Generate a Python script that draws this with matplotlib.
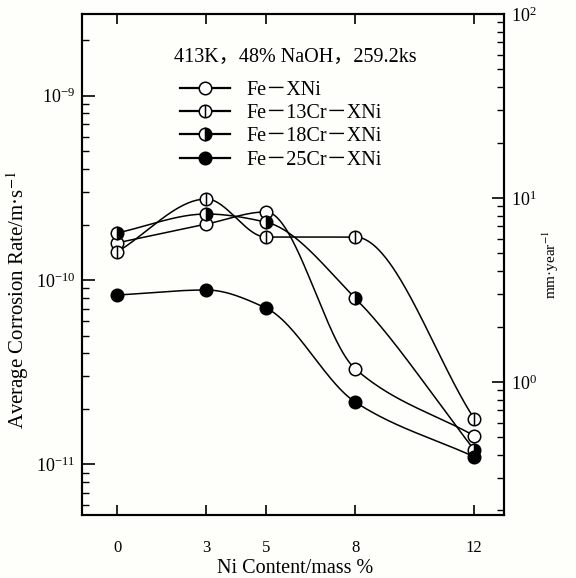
import numpy as np
import matplotlib
matplotlib.use("Agg")
import matplotlib.pyplot as plt
from matplotlib.path import Path
from matplotlib.lines import Line2D
from matplotlib.ticker import LogLocator, NullFormatter, FixedLocator

# Ni content (mass %) and average corrosion rate (m/s)
ni = [0, 3, 5, 8, 12]
fe_xni = [1.59e-10, 2.01e-10, 2.34e-10, 3.30e-11, 1.43e-11]
fe13cr = [1.42e-10, 2.75e-10, 1.71e-10, 1.71e-10, 1.77e-11]
fe18cr = [1.80e-10, 2.28e-10, 2.06e-10, 7.98e-11, 1.20e-11]
fe25cr = [8.29e-11, 8.83e-11, 7.05e-11, 2.18e-11, 1.10e-11]
labels = ["Fe－XNi", "Fe－13Cr－XNi", "Fe－18Cr－XNi", "Fe－25Cr－XNi"]

plt.rcParams['font.family'] = ['Liberation Serif', 'Noto Sans CJK JP']
plt.rcParams['mathtext.fontset'] = 'stix'


def pchip(x, y, xs):
    # monotone cubic through the points (smooth hand-drawn look)
    x = np.asarray(x, float)
    y = np.asarray(y, float)
    h = np.diff(x)
    d = np.diff(y) / h
    n = len(x)
    m = np.zeros(n)
    for k in range(1, n - 1):
        if d[k - 1] * d[k] > 0:
            w1 = 2 * h[k] + h[k - 1]
            w2 = h[k] + 2 * h[k - 1]
            m[k] = (w1 + w2) / (w1 / d[k - 1] + w2 / d[k])
    m[0] = d[0]
    m[-1] = d[-1]
    out = np.empty_like(xs)
    for i, xv in enumerate(xs):
        k = min(np.searchsorted(x, xv, side='right') - 1, n - 2)
        k = max(k, 0)
        t = (xv - x[k]) / h[k]
        h00 = 2 * t**3 - 3 * t**2 + 1
        h10 = t**3 - 2 * t**2 + t
        h01 = -2 * t**3 + 3 * t**2
        h11 = t**3 - t**2
        out[i] = h00 * y[k] + h10 * h[k] * m[k] + h01 * y[k + 1] + h11 * h[k] * m[k + 1]
    return out


# circle with a vertical bar for Fe-13Cr
bar_circle = Path.make_compound_path(
    Path.unit_circle(),
    Path([[0, -1], [0, 1]], [Path.MOVETO, Path.LINETO]))

fig = plt.figure(figsize=(5.76, 5.78), dpi=100)
fig.patch.set_facecolor('#fefefa')
ax = fig.add_axes([0.1424, 0.109, 0.7326, 0.8668])
ax.set_facecolor('#fefefa')

xs = np.linspace(0, 12, 400)
ms = 9
styles = [
    dict(marker='o', mfc='white', mec='black'),
    dict(marker=bar_circle, mfc='white', mec='black'),
    dict(marker='o', mfc='black', mfcalt='white', fillstyle='right', mec='black'),
    dict(marker='o', mfc='black', mec='black'),
]
handles = []
for vals, st, lab in zip([fe_xni, fe13cr, fe18cr, fe25cr], styles, labels):
    ys = 10 ** pchip(ni, np.log10(vals), xs)
    ax.plot(xs, ys, color='black', lw=1.1, zorder=2)
    ax.plot(ni, vals, ls='none', ms=ms, mew=1.1, zorder=3, **st)
    handles.append(Line2D([], [], color='black', lw=1.6, ms=ms, mew=1.1, **st))

ax.set_yscale('log')
ax.set_xlim(-1.18, 13.0)
ax.set_ylim(5.32e-12, 2.77e-9)
ax.set_xticks(ni)
ax.set_xticklabels([str(v) for v in ni], fontsize=12)
ax.yaxis.set_major_locator(FixedLocator([1e-11, 1e-10, 1e-9]))
ax.yaxis.set_minor_locator(LogLocator(base=10, subs=np.arange(2, 10)))
ax.yaxis.set_minor_formatter(NullFormatter())
ax.tick_params(axis='y', which='major', direction='in', length=9, width=1.2,
               labelsize=13, pad=5, right=False)
ax.tick_params(axis='y', which='minor', direction='in', length=5, width=1.0, right=False)
ax.tick_params(axis='x', direction='in', length=7, width=1.2, top=True, pad=18)
for sp in ax.spines.values():
    sp.set_linewidth(1.5)

ax2 = ax.twinx()
ax2.set_yscale('log')
ax2.set_ylim(0.189, 100)
ax2.yaxis.set_major_locator(FixedLocator([1, 10, 100]))
ax2.yaxis.set_minor_locator(LogLocator(base=10, subs=np.arange(2, 10)))
ax2.yaxis.set_minor_formatter(NullFormatter())
ax2.tick_params(axis='y', which='major', direction='in', length=9, width=1.2,
                labelsize=13, pad=5)
ax2.tick_params(axis='y', which='minor', direction='in', length=5, width=1.0)
for sp in ax2.spines.values():
    sp.set_linewidth(1.5)

ax.set_xlabel("Ni Content/mass %", fontsize=14.5)
ax.xaxis.set_label_coords(0.505, -0.087)
ax.set_ylabel("Average Corrosion Rate/m·s$^{-1}$", fontsize=15)
ax.yaxis.set_label_coords(-0.122, 0.43)
ax2.set_ylabel("mm·year$^{-1}$", fontsize=11)
ax2.yaxis.set_label_coords(1.088, 0.5)

ax.text(0.505, 0.914, "413K，48% NaOH，259.2ks", transform=ax.transAxes,
        ha='center', va='center', fontsize=14.5)
ax.legend(handles, labels, loc='upper left', bbox_to_anchor=(0.232, 0.866),
          frameon=False, fontsize=14.5, handlelength=2.5, handletextpad=0.8,
          labelspacing=0.2, borderpad=0, borderaxespad=0)

fig.savefig("out.png", dpi=100, facecolor=fig.get_facecolor())
